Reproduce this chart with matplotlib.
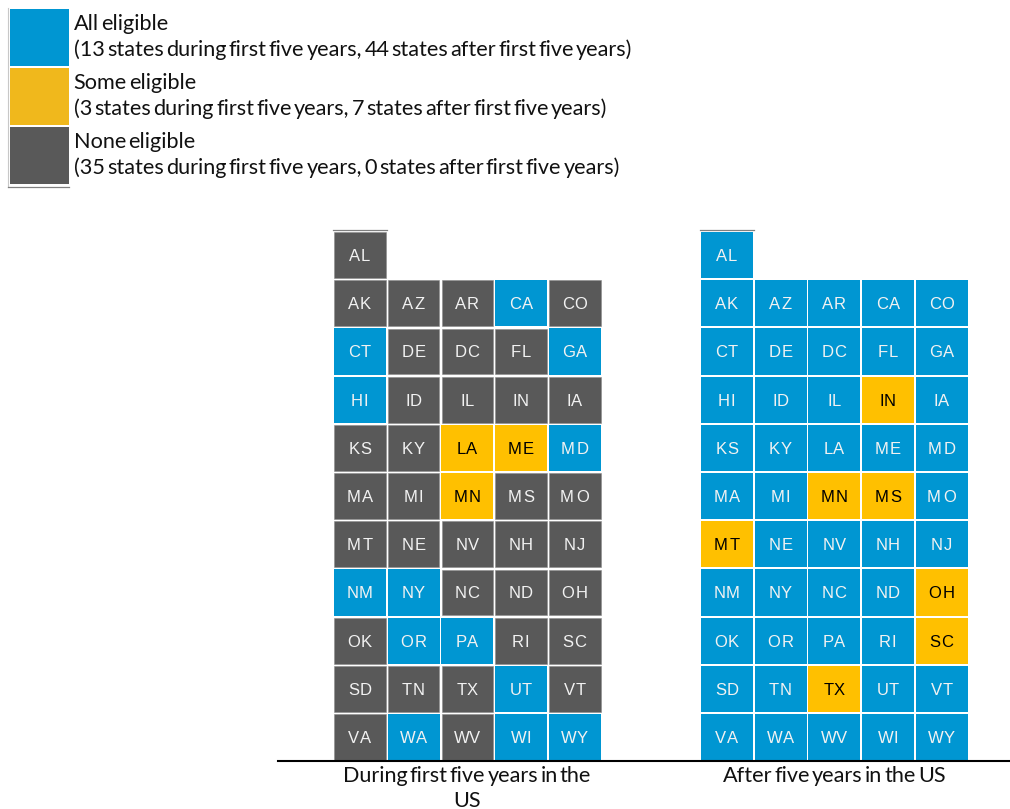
import matplotlib
matplotlib.use("Agg")
import matplotlib.pyplot as plt
from matplotlib.patches import Rectangle

# state abbreviations in reading order, first row holds only AL
states = ["AL",
          "AK", "AZ", "AR", "CA", "CO",
          "CT", "DE", "DC", "FL", "GA",
          "HI", "ID", "IL", "IN", "IA",
          "KS", "KY", "LA", "ME", "MD",
          "MA", "MI", "MN", "MS", "MO",
          "MT", "NE", "NV", "NH", "NJ",
          "NM", "NY", "NC", "ND", "OH",
          "OK", "OR", "PA", "RI", "SC",
          "SD", "TN", "TX", "UT", "VT",
          "VA", "WA", "WV", "WI", "WY"]

# A = all eligible, S = some eligible, N = none eligible
first_five = ["N",
              "N", "N", "N", "A", "N",
              "A", "N", "N", "N", "A",
              "A", "N", "N", "N", "N",
              "N", "N", "S", "S", "A",
              "N", "N", "S", "N", "N",
              "N", "N", "N", "N", "N",
              "A", "A", "N", "N", "N",
              "N", "A", "A", "N", "N",
              "N", "N", "N", "A", "N",
              "N", "A", "N", "A", "A"]
after_five = ["A",
              "A", "A", "A", "A", "A",
              "A", "A", "A", "A", "A",
              "A", "A", "A", "S", "A",
              "A", "A", "A", "A", "A",
              "A", "A", "S", "S", "A",
              "S", "A", "A", "A", "A",
              "A", "A", "A", "A", "S",
              "A", "A", "A", "A", "S",
              "A", "A", "S", "A", "A",
              "A", "A", "A", "A", "A"]

legend_titles = ["All eligible", "Some eligible", "None eligible"]
legend_notes = ["(13 states during first five years, 44 states after first five years)",
                "(3 states during first five years, 7 states after first five years)",
                "(35 states during first five years, 0 states after first five years)"]
panel_titles = [["During first five years in the", "US"], ["After five years in the US"]]

colors = {"A": "#0096D2", "S": "#FFC000", "N": "#595959"}
legend_colors = ["#0096D2", "#F0B81C", "#595959"]

plt.rcParams["font.family"] = ["Lato", "Liberation Sans", "DejaVu Sans"]

fig = plt.figure(figsize=(10.10, 8.09), dpi=100)
ax = fig.add_axes([0, 0, 1, 1])
ax.set_xlim(0, 1010)
ax.set_ylim(809, 0)
ax.axis("off")
renderer = fig.canvas.get_renderer()

col_w = 53.7
row_h = 48.2
top = 232
text_color = "#111111"


def width_of(t):
    return t.get_window_extent(renderer).width


# the original has tight word spaces, so words go down one at a time
def word_text(x, y, line, size=15.6, space=2.2, center=False):
    parts = [ax.text(x, y, w, ha="left", va="center_baseline", fontsize=size, color=text_color)
             for w in line.split(" ")]
    total = sum(width_of(p) for p in parts) + space * (len(parts) - 1)
    if center:
        x = x - total / 2
    for p in parts:
        p.set_x(x)
        x += width_of(p) + space


# state labels are letter-spaced in the original
def state_text(cx, cy, st, color):
    if st in ("ID", "IL", "IN", "IA", "WV", "UT", "WI", "TX"):
        track = -0.3
    elif st[0] == "M":
        track = 1.9
    else:
        track = 0.7
    parts = [ax.text(cx, cy, c, ha="left", va="center", fontsize=12,
                     family="Liberation Sans", color=color) for c in st]
    total = sum(width_of(p) for p in parts) + track
    x = cx - total / 2
    for p in parts:
        p.set_x(x)
        x += width_of(p) + track


def draw_panel(left, status):
    for i, (st, s) in enumerate(zip(states, status)):
        if i == 0:
            row, col = 0, 0
        else:
            row, col = (i - 1) // 5 + 1, (i - 1) % 5
        x = left + col * col_w
        y = top + row * row_h
        if s == "N":
            ax.add_patch(Rectangle((x + 0.2, y + 0.2), col_w - 2.2, row_h - 2.5, facecolor=colors[s],
                                   edgecolor="#8C8C8C", linewidth=0.4))
        else:
            ax.add_patch(Rectangle((x, y), col_w - 1.8, row_h - 2.1, facecolor=colors[s],
                                   edgecolor="none"))
        state_text(x + col_w / 2 - 1.2, y + row_h / 2 + 0.4, st, "black" if s == "S" else "#F2F2F2")
    ax.plot([left - 1, left + col_w - 1], [top - 2.5, top - 2.5], color="#808080", lw=0.9)


draw_panel(334, first_five)
draw_panel(701, after_five)

ax.plot([278, 1010], [761, 761], color="black", lw=1.5, zorder=5)

for cx, lines in zip([467, 834], panel_titles):
    for k, line in enumerate(lines):
        word_text(cx, 774.5 + k * 24.5, line, center=True)

# legend
for i in range(3):
    y = 9 + i * 59
    ax.add_patch(Rectangle((10, y), 59, 57, facecolor=legend_colors[i], edgecolor="none"))
    word_text(73.5, y + 13, legend_titles[i])
    word_text(74, y + 39, legend_notes[i])
ax.plot([8, 8], [8, 187], color="#C8C8C8", lw=0.8)
ax.plot([8, 69], [187, 187], color="#808080", lw=0.9)

fig.savefig("out.png", dpi=100)
